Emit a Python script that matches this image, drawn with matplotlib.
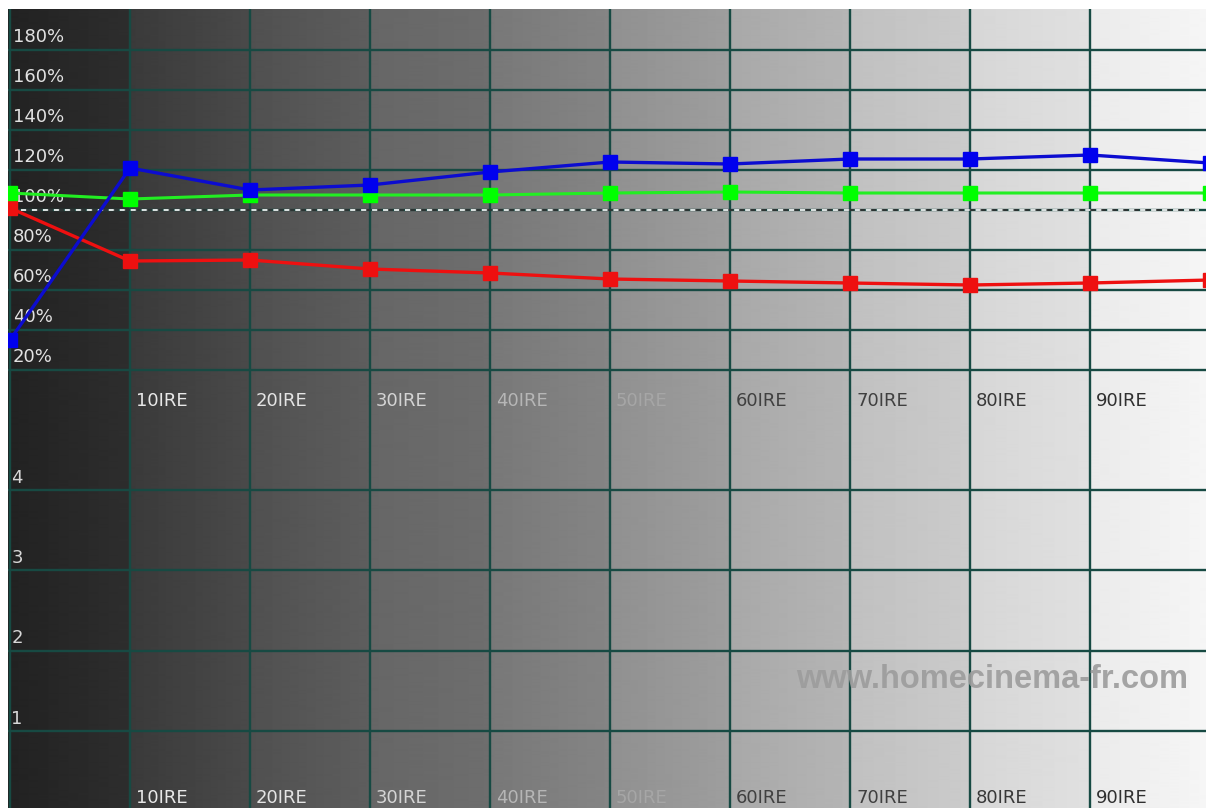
import numpy as np
import matplotlib.pyplot as plt

plt.rcParams['lines.scale_dashes'] = False

# measurement steps (IRE) and RGB balance in percent
ire = [0, 10, 20, 30, 40, 50, 60, 70, 80, 90, 100]
red_pct = [101, 74.5, 75, 70.5, 68.5, 65.5, 64.5, 63.5, 62.5, 63.5, 65]
green_pct = [108.5, 105.5, 107.5, 107.5, 107.5, 108.5, 109, 108.5, 108.5, 108.5, 108.5]
blue_pct = [35, 121, 110, 112.5, 119, 124, 123, 125.5, 125.5, 127.5, 123.5]

# axis labels
pct_ticks = [20, 40, 60, 80, 100, 120, 140, 160, 180]
lower_ticks = [1, 2, 3, 4]
ire_labels = ['10IRE', '20IRE', '30IRE', '40IRE', '50IRE', '60IRE', '70IRE', '80IRE', '90IRE']

# style: label colours and background grey ramp per 10 IRE column
ire_label_colors = ['#e8e8e8', '#e4e4e4', '#d4d4d4', '#b6b6b6', '#a6a6a6',
                    '#404040', '#404040', '#383838', '#303030']
shade_lo = [0x22, 0x3a, 0x50, 0x66, 0x78, 0x90, 0xa8, 0xc0, 0xd6, 0xea]
shade_hi = [0x2e, 0x4a, 0x5e, 0x6e, 0x85, 0x9e, 0xb5, 0xcb, 0xe0, 0xf6]

W, H = 1206, 808
GridColor = '#174a43'
FontFamily = 'DejaVu Sans'
FontSize = 13

fig = plt.figure(figsize=(W / 100, H / 100), dpi=100, facecolor='white')


def PixelAxes(left, top, right, bottom):
	return fig.add_axes([left / W, 1 - bottom / H, (right - left) / W, (bottom - top) / H])


XLeft = -1 / 6.0
AxTop = PixelAxes(8, 9, 1210, 410)
AxLow = PixelAxes(8, 410, 1210, 811)
AxTop.set_ylim(0, 200.5)
AxLow.set_ylim(0, 5)

# grey ramp background
xs = np.linspace(XLeft, 100, 1202)
seg = np.clip(np.floor(xs / 10).astype(int), 0, 9)
frac = (xs - seg * 10) / 10.0
shade = np.array(shade_lo)[seg] + (np.array(shade_hi) - np.array(shade_lo))[seg] * frac

for ax in (AxTop, AxLow):
	ax.set_xlim(XLeft, 100)
	y0, y1 = ax.get_ylim()
	ax.imshow(shade[None, :], cmap='gray', vmin=0, vmax=255, aspect='auto',
		extent=(XLeft, 100, y0, y1), interpolation='bilinear', zorder=0)
	ax.set_xlim(XLeft, 100)
	ax.set_ylim(y0, y1)
	ax.set_axis_off()
	for x in ire[:-1]:
		ax.axvline(x, color=GridColor, lw=1.7, zorder=1)

# horizontal grid
for v in pct_ticks:
	AxTop.axhline(v, color=GridColor, lw=1.7, zorder=1)
	AxTop.text(0.25, v + 4, '%d%%' % v, color='#e2e2e2', fontsize=FontSize,
		family=FontFamily, va='baseline', ha='left', zorder=2)
for v in lower_ticks:
	AxLow.axhline(v, color=GridColor, lw=1.7, zorder=1)
	AxLow.text(0.1, v + 0.09, '%d' % v, color='#d8d8d8', fontsize=FontSize,
		family=FontFamily, va='baseline', ha='left', zorder=2)

# IRE labels in both panels
for x, lab, col in zip(ire[1:-1], ire_labels, ire_label_colors):
	AxTop.text(x + 0.5, 2.2, lab, color=col, fontsize=FontSize, family=FontFamily,
		va='baseline', ha='left', zorder=2)
	AxLow.text(x + 0.5, 0.1, lab, color=col, fontsize=FontSize, family=FontFamily,
		va='baseline', ha='left', zorder=2)

# 100% reference, white and dark dashes
AxTop.plot([0, 99.1], [100, 100], color='white', lw=1.2, linestyle=(0, (4.3, 3.6)), zorder=3)
AxTop.plot([0, 99.1], [100, 100], color='#303030', lw=1.2, linestyle=(4.3, (3.6, 4.3)), zorder=3)

# RGB balance curves
AxTop.plot(ire, red_pct, color='#ee1010', lw=2.4, marker='s', ms=10, mec='#ee1010', zorder=4)
AxTop.plot(ire, green_pct, color='#22ee22', lw=2.2, marker='s', ms=10, mec='#00ff00', mfc='#00ff00', zorder=5)
AxTop.plot(ire, blue_pct, color='#0c0cd0', lw=2.4, marker='s', ms=10, mec='#0000ee', mfc='#0000ee', zorder=6)

# watermark
AxLow.text(98.2, 1.64, 'www.homecinema-fr.com', color='#9c9c9c', alpha=0.9,
	fontsize=23.5, family='Liberation Sans', fontweight='bold', ha='right', va='center', zorder=3)

fig.savefig('out.png', dpi=100, facecolor='white')
